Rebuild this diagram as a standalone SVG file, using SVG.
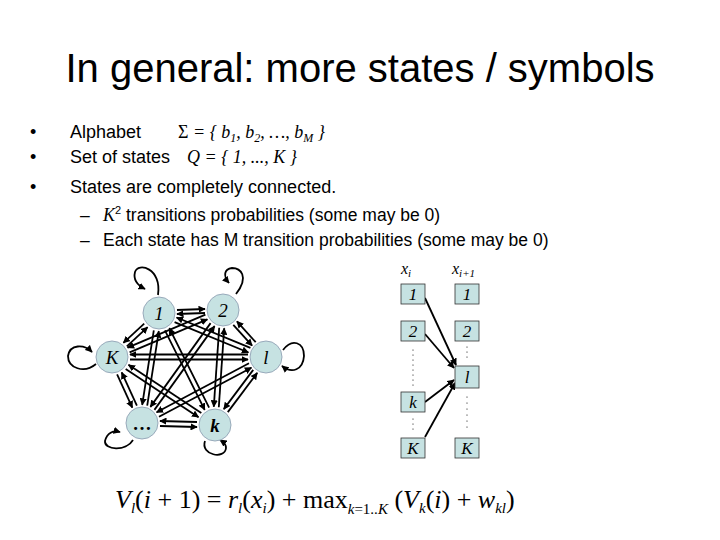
<svg xmlns="http://www.w3.org/2000/svg" width="720" height="540" viewBox="0 0 720 540">
<defs>
<marker id="ah" viewBox="0 0 10 10" refX="9" refY="5" markerWidth="4" markerHeight="4" orient="auto" markerUnits="strokeWidth"><path d="M0,0 L10,5 L0,10 z" fill="#000"/></marker>
<style>
.s{font-family:"Liberation Sans",Arial,sans-serif;fill:#000}
.m{font-family:"Liberation Serif","Times New Roman",serif;font-style:italic;fill:#000}
.n{fill:#c6e2e2;stroke:#9ab;stroke-width:1}
.b{fill:#c6e2e2;stroke:#333;stroke-width:0.8}
#edges line,#edges path{stroke:#000;stroke-width:1.8;fill:none;marker-end:url(#ah)}
</style>
</defs>
<rect width="720" height="540" fill="#fff"/>
<text class="s" x="360" y="82" font-size="40" text-anchor="middle">In general: more states / symbols</text>
<g class="s" font-size="18">
<text x="30" y="138">•</text><text x="70" y="138">Alphabet</text>
<text x="30" y="163">•</text><text x="70" y="163">Set of states</text>
<text x="30" y="193">•</text><text x="70" y="193">States are completely connected.</text>
</g>
<text class="m" x="178" y="138" font-size="18"><tspan font-style="normal">Σ</tspan> = { b<tspan font-size="12" dy="4">1</tspan><tspan dy="-4">, b</tspan><tspan font-size="12" dy="4">2</tspan><tspan dy="-4">, …, b</tspan><tspan font-size="12" dy="4">M</tspan><tspan dy="-4"> }</tspan></text>
<text class="m" x="187" y="163" font-size="18">Q = { 1, ..., K }</text>
<g class="s" font-size="17.5">
<text x="80" y="221">–</text><text x="103" y="221"><tspan class="m" font-size="18">K</tspan><tspan font-size="11" dy="-7">2</tspan><tspan dy="7"> transitions probabilities (some may be 0)</tspan></text>
<text x="80" y="246">–</text><text x="103" y="246">Each state has M transition probabilities (some may be 0)</text>
</g>
<g id="edges">
<line x1="177" y1="310" x2="205" y2="309"/><line x1="205" y1="313" x2="177" y2="314"/>
<line x1="174.6" y1="322.1" x2="248.4" y2="352.5"/><line x1="250.4" y1="347.9" x2="176.6" y2="317.5"/>
<line x1="144.2" y1="323.6" x2="123.4" y2="342.8"/><line x1="126.8" y1="346.4" x2="147.6" y2="327.2"/>
<line x1="153.8" y1="330.4" x2="142.2" y2="404.8"/><line x1="147.2" y1="405.6" x2="158.8" y2="331.2"/>
<line x1="164.9" y1="330.3" x2="204.7" y2="409.9"/><line x1="209.1" y1="407.7" x2="169.3" y2="328.1"/>
<line x1="233.3" y1="324.8" x2="252.1" y2="345.6"/><line x1="255.7" y1="342.2" x2="236.9" y2="321.4"/>
<line x1="205.4" y1="314.7" x2="127.6" y2="347.7"/><line x1="129.6" y1="352.3" x2="207.4" y2="319.3"/>
<line x1="210.6" y1="323.1" x2="150.4" y2="406.9"/><line x1="154.4" y1="409.9" x2="214.6" y2="326.1"/>
<line x1="219.2" y1="327.8" x2="213.8" y2="406.8"/><line x1="218.8" y1="407.2" x2="224.2" y2="328.2"/>
<line x1="248" y1="354.5" x2="130" y2="354.5"/><line x1="130" y1="359.5" x2="248" y2="359.5"/>
<line x1="249" y1="363.3" x2="156.6" y2="412.3"/><line x1="159" y1="416.7" x2="251.4" y2="367.7"/>
<line x1="253.2" y1="369.9" x2="223.8" y2="409.1"/><line x1="227.8" y1="412.1" x2="257.2" y2="372.9"/>
<line x1="117.1" y1="374.4" x2="132.3" y2="407.6"/><line x1="136.9" y1="405.6" x2="121.7" y2="372.4"/>
<line x1="125.7" y1="369" x2="198.5" y2="417.2"/><line x1="201.3" y1="413" x2="128.5" y2="364.8"/>
<line x1="160" y1="426" x2="197" y2="427"/><line x1="197" y1="422" x2="160" y2="421"/>
<path d="M158,295 C162,268 138,262 135,272 C133,280 137,285 145,289"/>
<path d="M236,294 C250,276 240,268 232,268 C224,269 223,276 229,283"/>
<path d="M283,350 C292,338 304,342 304,356 C303,370 292,374 282,366"/>
<path d="M96,364 C84,374 68,368 68,356 C70,344 84,344 92,352"/>
<path d="M133,440 C126,452 104,450 105,441 C107,433 113,430 120,432"/>
<path d="M205,441 C200,455 225,460 226,448 C226,443 223,442 220,440"/>
</g>
<g id="n1"><circle class="n" cx="159" cy="313" r="16"/><text class="m" x="159" y="320" font-size="19" text-anchor="middle">1</text></g>
<g id="n2"><circle class="n" cx="223" cy="310" r="16"/><text class="m" x="223" y="317" font-size="19" text-anchor="middle" font-style="normal">2</text></g>
<g id="nl"><circle class="n" cx="266" cy="357" r="16"/><text class="m" x="266" y="364" font-size="19" text-anchor="middle">l</text></g>
<g id="nK"><circle class="n" cx="112" cy="357" r="16"/><text class="m" x="112" y="364" font-size="19" text-anchor="middle">K</text></g>
<g id="nd"><circle class="n" cx="142" cy="423" r="16"/><text x="142" y="430" font-family="Liberation Serif,serif" font-weight="bold" font-size="19" text-anchor="middle">…</text></g>
<g id="nk"><circle class="n" cx="215" cy="425" r="16"/><text class="m" x="215" y="432" font-size="19" font-weight="bold" text-anchor="middle">k</text></g>
<text class="m" x="401" y="274" font-size="16">x<tspan font-size="11" dy="3">i</tspan></text>
<text class="m" x="452" y="274" font-size="16">x<tspan font-size="11" dy="3">i+1</tspan></text>
<g id="edges2">
<line x1="425" y1="298" x2="456" y2="365" stroke="#000" stroke-width="1.8" marker-end="url(#ah)"/>
<line x1="425" y1="334" x2="454" y2="368" stroke="#000" stroke-width="1.8" marker-end="url(#ah)"/>
<line x1="425" y1="402" x2="454" y2="380" stroke="#000" stroke-width="1.8" marker-end="url(#ah)"/>
<line x1="425" y1="437" x2="455" y2="383" stroke="#000" stroke-width="1.8" marker-end="url(#ah)"/>
</g>
<g id="b1"><rect class="b" x="401" y="284" width="24" height="20"/><text class="m" x="413" y="300" font-size="17" text-anchor="middle">1</text></g>
<g id="b2"><rect class="b" x="401" y="321" width="24" height="20"/><text class="m" x="413" y="337" font-size="17" text-anchor="middle" font-style="normal">2</text></g>
<g id="bk"><rect class="b" x="401" y="392" width="24" height="20"/><text class="m" x="413" y="408" font-size="17" text-anchor="middle">k</text></g>
<g id="bK"><rect class="b" x="401" y="438" width="24" height="20"/><text class="m" x="413" y="454" font-size="17" text-anchor="middle">K</text></g>
<g id="c1"><rect class="b" x="455" y="284" width="24" height="20"/><text class="m" x="467" y="300" font-size="17" text-anchor="middle">1</text></g>
<g id="c2"><rect class="b" x="455" y="321" width="24" height="20"/><text class="m" x="467" y="337" font-size="17" text-anchor="middle" font-style="normal">2</text></g>
<g id="cl"><rect class="b" x="455" y="366" width="24" height="22"/><text class="m" x="467" y="383" font-size="17" text-anchor="middle">l</text></g>
<g id="cK"><rect class="b" x="455" y="438" width="24" height="20"/><text class="m" x="467" y="454" font-size="17" text-anchor="middle">K</text></g>
<g fill="#000">
<circle cx="413" cy="350" r="0.6"/><circle cx="413" cy="355" r="0.6"/><circle cx="413" cy="360" r="0.6"/><circle cx="413" cy="365" r="0.6"/><circle cx="413" cy="370" r="0.6"/><circle cx="413" cy="375" r="0.6"/><circle cx="413" cy="380" r="0.6"/><circle cx="413" cy="385" r="0.6"/>
<circle cx="413" cy="419" r="0.6"/><circle cx="413" cy="424" r="0.6"/><circle cx="413" cy="429" r="0.6"/>
<circle cx="467" cy="347" r="0.6"/><circle cx="467" cy="352" r="0.6"/><circle cx="467" cy="357" r="0.6"/>
<circle cx="467" cy="397" r="0.6"/><circle cx="467" cy="403" r="0.6"/><circle cx="467" cy="409" r="0.6"/><circle cx="467" cy="415" r="0.6"/><circle cx="467" cy="421" r="0.6"/><circle cx="467" cy="427" r="0.6"/>
</g>
<text x="115" y="508" font-family="Liberation Serif,serif" font-size="26" fill="#000"><tspan font-style="italic">V</tspan><tspan font-size="15" font-style="italic" dy="5">l</tspan><tspan dy="-5">(</tspan><tspan font-style="italic">i</tspan> + 1) = <tspan font-style="italic">r</tspan><tspan font-size="15" font-style="italic" dy="5">l</tspan><tspan dy="-5">(</tspan><tspan font-style="italic">x</tspan><tspan font-size="15" font-style="italic" dy="5">i</tspan><tspan dy="-5">) + max</tspan><tspan font-size="15" dy="6"><tspan font-style="italic">k</tspan>=1..<tspan font-style="italic">K</tspan></tspan><tspan dy="-6"> (</tspan><tspan font-style="italic">V</tspan><tspan font-size="15" font-style="italic" dy="5">k</tspan><tspan dy="-5">(</tspan><tspan font-style="italic">i</tspan>) + <tspan font-style="italic">w</tspan><tspan font-size="15" font-style="italic" dy="5">kl</tspan><tspan dy="-5">)</tspan></text>
</svg>
